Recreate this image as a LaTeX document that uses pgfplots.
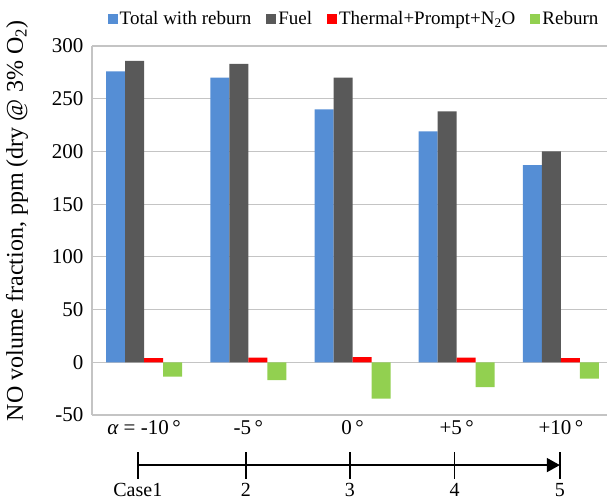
\documentclass[border=0pt]{standalone}
\usepackage{pgfplots}
\pgfplotsset{compat=1.18}
\usepackage{fontspec}
\setmainfont{Liberation Serif}
\usetikzlibrary{arrows.meta}
\definecolor{cblue}{HTML}{558ED5}
\definecolor{cdark}{HTML}{595959}
\definecolor{cred}{HTML}{FF0000}
\definecolor{cgreen}{HTML}{92D050}
\definecolor{cgrid}{HTML}{C4C4C4}
\begin{document}
\begin{tikzpicture}
\useasboundingbox (-92pt,-87pt) rectangle (515pt,415pt);
\begin{axis}[
  scale only axis,
  width=521pt, height=369pt,
  xmin=-0.5, xmax=4.5,
  ymin=-50, ymax=300,
  ytick={-50,0,50,100,150,200,250,300},
  xtick={0,1,2,3,4},
  xticklabels={{\itshape α} = -10\,°, -5\,°, 0\,°, +5\,°, +10\,°},
  major tick length=0pt,
  ymajorgrids,
  grid style={cgrid, line width=1.2pt},
  axis lines*=left,
  y axis line style={cgrid, line width=1.2pt},
  x axis line style={draw=none},
  ybar=0pt,
  bar width=19pt,
  /pgf/number format/assume math mode=true,
  yticklabel style={font=\fontsize{21}{25}\selectfont, xshift=-5pt},
  xticklabel style={font=\fontsize{21}{25}\selectfont, yshift=-2pt},
  ylabel={NO volume fraction, ppm (dry @ 3\% O\textsubscript{2})},
  every axis y label/.style={at={(axis description cs:0,0.526)}, rotate=90, anchor=center, yshift=75pt, font=\fontsize{24}{28}\selectfont},
  clip=false,
  legend style={at={(0.503,1)}, anchor=center, yshift=27pt, draw=none, fill=none,
    legend columns=-1, font=\fontsize{19}{23}\selectfont,
    nodes={inner xsep=2pt},
    /tikz/every even column/.append style={column sep=13pt}},
  legend image code/.code={\fill[#1] (0pt,-5pt) rectangle (10pt,5pt);},
]
\addplot[fill=cblue, draw=none] coordinates {(0,276) (1,270) (2,240) (3,219) (4,187)};
\addplot[fill=cdark, draw=none] coordinates {(0,286) (1,283) (2,270) (3,238) (4,200)};
\addplot[fill=cred, draw=none] coordinates {(0,4) (1,4.5) (2,5) (3,4.5) (4,4)};
\addplot[fill=cgreen, draw=none] coordinates {(0,-13.5) (1,-17) (2,-34.5) (3,-23.5) (4,-15.5)};
\legend{Total with reburn, Fuel, Thermal+Prompt+N\textsubscript{2}O, Reburn}
\draw[black, line width=1.5pt, -{Triangle[length=13pt,width=14pt]}] (axis cs:-0.06,-97.5) -- (axis cs:3.99,-97.5);
\draw[black, line width=1.5pt] (axis cs:-0.06,-85.2) -- (axis cs:-0.06,-110.5);
\draw[black, line width=1.5pt] (axis cs:0.977,-85.2) -- (axis cs:0.977,-110.5);
\draw[black, line width=1.5pt] (axis cs:1.975,-85.2) -- (axis cs:1.975,-110.5);
\draw[black, line width=1.5pt] (axis cs:2.98,-85.2) -- (axis cs:2.98,-110.5);
\draw[black, line width=1.5pt] (axis cs:3.99,-85.2) -- (axis cs:3.99,-110.5);
\node[anchor=north, yshift=-1pt, font=\fontsize{20}{24}\selectfont] at (axis cs:-0.06,-110.5) {Case1};
\node[anchor=north, yshift=-1pt, font=\fontsize{20}{24}\selectfont] at (axis cs:0.977,-110.5) {2};
\node[anchor=north, yshift=-1pt, font=\fontsize{20}{24}\selectfont] at (axis cs:1.975,-110.5) {3};
\node[anchor=north, yshift=-1pt, font=\fontsize{20}{24}\selectfont] at (axis cs:2.98,-110.5) {4};
\node[anchor=north, yshift=-1pt, font=\fontsize{20}{24}\selectfont] at (axis cs:3.99,-110.5) {5};
\end{axis}
\end{tikzpicture}
\end{document}
